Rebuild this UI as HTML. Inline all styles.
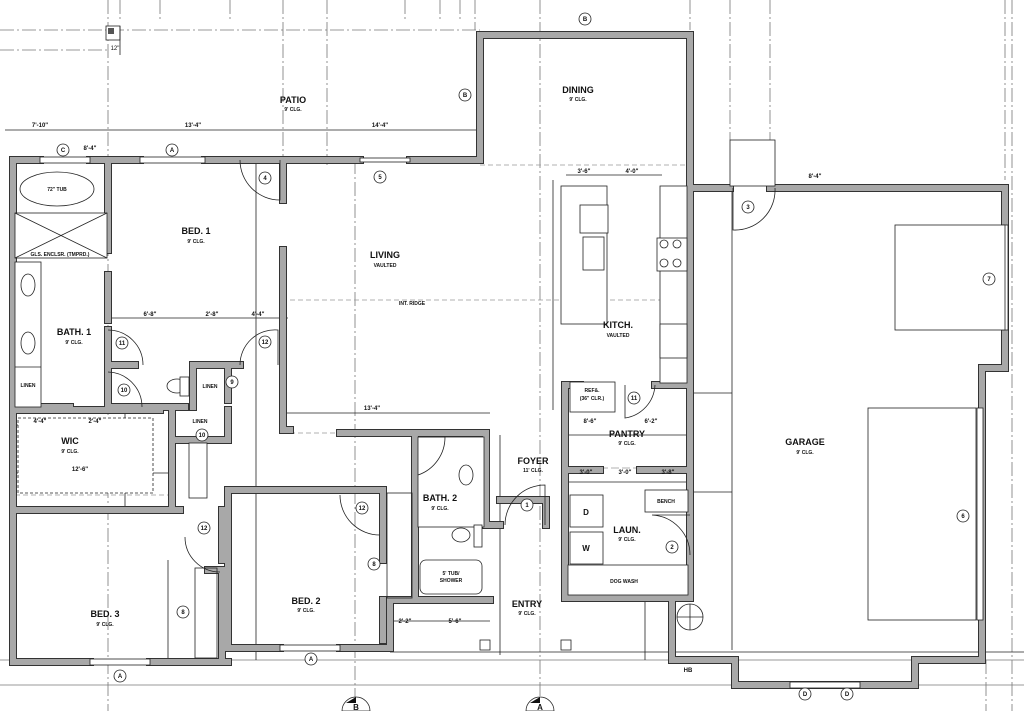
<!DOCTYPE html>
<html><head><meta charset="utf-8"><style>
html,body{margin:0;padding:0;background:#fff;}
svg{display:block;}
text{font-family:"Liberation Sans",sans-serif;font-weight:bold;fill:#111;}
.lb{font-size:9px;text-anchor:middle;}
.sm{font-size:5px;text-anchor:middle;font-weight:normal;}
.dm{font-size:6px;text-anchor:middle;font-weight:normal;}
.g{stroke:#777;stroke-width:0.8;fill:none;stroke-dasharray:14 3 2 3;}
.t{stroke:#222;stroke-width:0.8;fill:none;}
.d{stroke:#999;stroke-width:0.8;fill:none;stroke-dasharray:5 3;}
.wo{stroke:#333;stroke-width:8;fill:none;stroke-linecap:square;}
.wi{stroke:#a8a8a8;stroke-width:6;fill:none;stroke-linecap:square;}
.c{fill:#fff;stroke:#222;stroke-width:0.8;}
</style></head><body>
<svg width="1024" height="711" viewBox="0 0 1024 711" xmlns="http://www.w3.org/2000/svg">
<defs>
<g id="walls" fill="none">
<path d="M13 160 H40 M90 160 H140 M205 160 H245 M283 160 H360 M410 160 H480 V35 H690 V382 M690 188 H730 M770 188 H1005 V368 H982 V660 H915 V685 H735 V660 H672 V600"/>
<path d="M13 160 V662 H90 M150 662 H228 M228 490 V648 H280 M340 648 H390 V600 H490 M108 160 V250 M108 275 V320 M108 330 V407"/>
<path d="M283 160 V200 M283 250 V430 H290 M340 433 H486 V525 H500 M500 500 H546 V525 M380 490 H228 M383 490 V560 M383 600 V640"/>
<path d="M108 365 H135 M108 385 V407 M13 407 H70 M108 407 H185 M193 365 V407 M228 365 V400 M193 365 H240"/>
<path d="M13 410 H160 M13 510 H180 M172 410 V510 M172 440 H228 V410 M222 510 V560 M222 570 V660 M208 570 H222"/>
<path d="M415 433 V598 M565 480 V598 H690 M565 385 V480 M565 385 H580 M565 470 H600 M640 470 H690 M690 385 V598 M655 385 H690"/>
<path d="M245 160 H283"/>
</g>
</defs>
<!-- grid lines -->
<g class="g">
<line x1="108" y1="0" x2="108" y2="711"/><line x1="283" y1="0" x2="283" y2="165"/>
<line x1="327" y1="0" x2="327" y2="165"/><line x1="355" y1="160" x2="355" y2="711"/>
<line x1="475" y1="0" x2="475" y2="30"/><line x1="540" y1="0" x2="540" y2="711"/>
<line x1="0" y1="30" x2="480" y2="30"/><line x1="0" y1="50" x2="108" y2="50"/>
<line x1="0" y1="660" x2="1024" y2="660" style="stroke-dasharray:none"/>
<line x1="0" y1="685" x2="1024" y2="685" style="stroke-dasharray:none"/>
<line x1="690" y1="0" x2="690" y2="30"/><line x1="1005" y1="0" x2="1005" y2="180"/>
<line x1="1012" y1="0" x2="1012" y2="711"/><line x1="986" y1="660" x2="986" y2="711"/>
<line x1="730" y1="0" x2="730" y2="140"/><line x1="770" y1="0" x2="770" y2="140"/>
<line x1="120" y1="0" x2="120" y2="20"/><line x1="160" y1="0" x2="160" y2="20"/>
<line x1="230" y1="0" x2="230" y2="20"/><line x1="405" y1="0" x2="405" y2="20"/>
<line x1="440" y1="0" x2="440" y2="20"/><line x1="460" y1="0" x2="460" y2="20"/>
</g>
<!-- top-left marker box -->
<rect x="106" y="26" width="14" height="14" class="c"/>
<rect x="108" y="28" width="6" height="6" fill="#555"/>
<line x1="120" y1="26" x2="120" y2="55" class="t"/>
<text x="115" y="50" class="dm">12"</text>
<!-- dimension lines -->
<g class="t">
<line x1="5" y1="130" x2="480" y2="130"/>
<line x1="108" y1="318" x2="288" y2="318"/>
<line x1="286" y1="413" x2="490" y2="413"/>
<line x1="10" y1="425" x2="150" y2="425"/>
<line x1="10" y1="473" x2="172" y2="473"/>
<line x1="256" y1="160" x2="256" y2="660"/>
<line x1="168" y1="560" x2="168" y2="665"/>
<line x1="553" y1="180" x2="553" y2="410"/>
<line x1="566" y1="175" x2="662" y2="175"/>
<line x1="732" y1="185" x2="732" y2="650"/>
<line x1="563" y1="435" x2="690" y2="435"/>
<line x1="563" y1="482" x2="690" y2="482"/>
<line x1="690" y1="393" x2="732" y2="393"/>
<line x1="500" y1="435" x2="500" y2="655"/>
<line x1="390" y1="621" x2="490" y2="621"/>
<line x1="645" y1="600" x2="645" y2="660"/>
<line x1="390" y1="652" x2="1024" y2="652"/>
<line x1="125" y1="412" x2="125" y2="510"/>
<line x1="690" y1="492" x2="732" y2="492"/>
</g>
<!-- dashed ridge / beams -->
<g class="d">
<line x1="290" y1="300" x2="687" y2="300"/><line x1="480" y1="165" x2="687" y2="165"/>
<line x1="15" y1="495" x2="172" y2="495"/><line x1="290" y1="433" x2="340" y2="433"/>
<line x1="600" y1="468" x2="687" y2="468" style="stroke-dasharray:8 3"/>
</g>
<!-- walls -->
<use href="#walls" class="wo"/>
<use href="#walls" class="wi"/>
<!-- windows -->
<g class="c">
<rect x="40" y="157" width="50" height="6"/><rect x="140" y="157" width="65" height="6"/>
<rect x="360" y="158" width="50" height="4"/><rect x="90" y="659" width="60" height="6"/>
<rect x="280" y="645" width="60" height="6"/><rect x="790" y="682" width="70" height="6"/>
<rect x="1002" y="225" width="6" height="105"/><rect x="977" y="408" width="6" height="212"/>
<rect x="730" y="140" width="45" height="46"/>
</g>
<!-- fixtures -->
<g class="c">
<ellipse cx="57" cy="189" rx="37" ry="17"/>
<rect x="15" y="213" width="92" height="45"/>
<line x1="15" y1="213" x2="107" y2="258"/><line x1="107" y1="213" x2="15" y2="258"/>
<rect x="15" y="262" width="26" height="145"/>
<ellipse cx="28" cy="285" rx="7" ry="11"/><ellipse cx="28" cy="343" rx="7" ry="11"/>
<line x1="15" y1="367" x2="41" y2="367"/>
<ellipse cx="177" cy="386" rx="10" ry="7"/><rect x="180" y="377" width="9" height="19"/>
<rect x="18" y="418" width="135" height="75" style="stroke-dasharray:3 2"/>
<rect x="189" y="443" width="18" height="55"/>
<rect x="561" y="186" width="46" height="138"/>
<rect x="580" y="205" width="28" height="28"/><rect x="583" y="237" width="21" height="33"/>
<rect x="660" y="186" width="27" height="197"/>
<rect x="657" y="238" width="30" height="33"/>
<circle cx="664" cy="244" r="4"/><circle cx="677" cy="244" r="4"/><circle cx="664" cy="263" r="4"/><circle cx="677" cy="263" r="4"/>
<rect x="660" y="324" width="27" height="34"/>
<rect x="570" y="382" width="45" height="30"/>
<rect x="895" y="225" width="110" height="105"/><rect x="868" y="408" width="108" height="212"/>
<rect x="418" y="437" width="66" height="90"/><ellipse cx="466" cy="475" rx="7" ry="10"/>
<ellipse cx="461" cy="535" rx="9" ry="7"/><rect x="474" y="525" width="8" height="22"/>
<rect x="420" y="560" width="62" height="34" rx="6"/>
<rect x="570" y="495" width="33" height="32"/><rect x="570" y="532" width="33" height="32"/>
<rect x="568" y="565" width="120" height="30"/><rect x="645" y="490" width="43" height="22"/>
<rect x="387" y="493" width="25" height="105" style="fill:none"/>
<rect x="195" y="568" width="22" height="90" style="fill:none"/>
<circle cx="690" cy="617" r="13"/>
<line x1="677" y1="617" x2="703" y2="617"/><line x1="690" y1="604" x2="690" y2="630"/>
<rect x="480" y="640" width="10" height="10"/><rect x="561" y="640" width="10" height="10"/>
</g>
<!-- doors -->
<g class="t">
<path d="M240 160 A40 40 0 0 0 280 200 V160"/><path d="M775 188 A40 40 0 0 1 733 230 V188"/>
<path d="M143 365 A35 35 0 0 0 108 330"/><path d="M240 365 A35 35 0 0 1 278 330 V365"/>
<path d="M142 407 A35 35 0 0 0 108 372"/><path d="M220 572 A35 35 0 0 1 185 537"/>
<path d="M380 535 A40 40 0 0 1 340 495"/><path d="M418 437 H445 A40 40 0 0 1 418 475"/>
<path d="M505 525 A40 40 0 0 1 545 485 V525"/><path d="M655 385 A35 35 0 0 1 625 418 V385"/>
<path d="M690 555 A40 40 0 0 0 652 515 H690"/>
</g>
<!-- section markers -->
<g>
<path d="M342 711 A14 14 0 0 1 370 711 Z" class="c"/>
<path d="M356 697 L346 703 L356 703 Z" fill="#111"/>
<path d="M526 711 A14 14 0 0 1 554 711 Z" class="c"/>
<path d="M540 697 L530 703 L540 703 Z" fill="#111"/>
<text x="356" y="710" class="lb" style="font-size:8px">B</text>
<text x="540" y="710" class="lb" style="font-size:8px">A</text>
</g>
<!-- circle tags -->
<g class="c">
<circle cx="265" cy="178" r="6"/><circle cx="380" cy="177" r="6"/><circle cx="748" cy="207" r="6"/>
<circle cx="989" cy="279" r="6"/><circle cx="122" cy="343" r="6"/><circle cx="265" cy="342" r="6"/>
<circle cx="124" cy="390" r="6"/><circle cx="232" cy="382" r="6"/><circle cx="202" cy="435" r="6"/>
<circle cx="204" cy="528" r="6"/><circle cx="362" cy="508" r="6"/><circle cx="374" cy="564" r="6"/>
<circle cx="183" cy="612" r="6"/><circle cx="527" cy="505" r="6"/><circle cx="634" cy="398" r="6"/>
<circle cx="672" cy="547" r="6"/><circle cx="963" cy="516" r="6"/><circle cx="465" cy="95" r="6"/>
<circle cx="585" cy="19" r="6"/><circle cx="63" cy="150" r="6"/><circle cx="172" cy="150" r="6"/>
<circle cx="120" cy="676" r="6"/><circle cx="311" cy="659" r="6"/><circle cx="805" cy="694" r="6"/><circle cx="847" cy="694" r="6"/>
</g>
<g class="sm" style="font-size:6px">
<text x="265" y="180">4</text><text x="380" y="179">5</text><text x="748" y="209">3</text><text x="989" y="281">7</text>
<text x="122" y="345">11</text><text x="265" y="344">12</text><text x="124" y="392">10</text><text x="232" y="384">9</text>
<text x="202" y="437">10</text><text x="204" y="530">12</text><text x="362" y="510">12</text><text x="374" y="566">8</text>
<text x="183" y="614">8</text><text x="527" y="507">1</text><text x="634" y="400">11</text><text x="672" y="549">2</text>
<text x="963" y="518">6</text><text x="465" y="97">B</text><text x="585" y="21">B</text><text x="63" y="152">C</text>
<text x="172" y="152">A</text><text x="120" y="678">A</text><text x="311" y="661">A</text><text x="805" y="696">D</text><text x="847" y="696">D</text>
</g>
<!-- room labels -->
<g class="lb">
<text x="293" y="103">PATIO</text><text x="578" y="93">DINING</text><text x="196" y="234">BED. 1</text>
<text x="385" y="258">LIVING</text><text x="74" y="335">BATH. 1</text><text x="618" y="328">KITCH.</text>
<text x="70" y="444">WIC</text><text x="627" y="437">PANTRY</text><text x="533" y="464">FOYER</text>
<text x="440" y="501">BATH. 2</text><text x="627" y="533">LAUN.</text><text x="805" y="445">GARAGE</text>
<text x="306" y="604">BED. 2</text><text x="527" y="607">ENTRY</text><text x="105" y="617">BED. 3</text>
<text x="586" y="515" style="font-size:8px">D</text><text x="586" y="551" style="font-size:8px">W</text>
</g>
<g class="sm">
<text x="293" y="111">9' CLG.</text><text x="578" y="101">9' CLG.</text><text x="196" y="243">9' CLG.</text>
<text x="385" y="267">VAULTED</text><text x="74" y="344">9' CLG.</text><text x="618" y="337">VAULTED</text>
<text x="70" y="453">9' CLG.</text><text x="627" y="445">9' CLG.</text><text x="533" y="472">11' CLG.</text>
<text x="440" y="510">9' CLG.</text><text x="627" y="541">9' CLG.</text><text x="805" y="454">9' CLG.</text>
<text x="306" y="612">9' CLG.</text><text x="527" y="615">9' CLG.</text><text x="105" y="626">9' CLG.</text>
<text x="57" y="191">72" TUB</text><text x="60" y="256">GLS. ENCLSR. (TMPRD.)</text>
<text x="28" y="387">LINEN</text><text x="210" y="388">LINEN</text><text x="200" y="423">LINEN</text>
<text x="412" y="305">INT. RIDGE</text><text x="592" y="392">REF&amp;.</text><text x="592" y="400">(36" CLR.)</text>
<text x="451" y="575">5' TUB/</text><text x="451" y="582">SHOWER</text><text x="624" y="583">DOG WASH</text>
<text x="666" y="503">BENCH</text>
</g>
<g class="dm">
<text x="40" y="127">7'-10"</text><text x="193" y="127">13'-4"</text><text x="380" y="127">14'-4"</text>
<text x="150" y="316">6'-8"</text><text x="212" y="316">2'-8"</text><text x="258" y="316">4'-4"</text>
<text x="372" y="410">13'-4"</text><text x="40" y="423">4'-4"</text><text x="95" y="423">2'-4"</text>
<text x="80" y="471">12'-6"</text><text x="584" y="173">3'-6"</text><text x="632" y="173">4'-0"</text>
<text x="590" y="423">8'-6"</text><text x="651" y="423">6'-2"</text><text x="586" y="474">3'-0"</text>
<text x="625" y="474">3'-0"</text><text x="668" y="474">3'-8"</text><text x="405" y="623">2'-2"</text>
<text x="455" y="623">5'-6"</text><text x="815" y="178">8'-4"</text><text x="90" y="150">8'-4"</text>
<text x="688" y="672">HB</text>
</g>
</svg>
</body></html>
